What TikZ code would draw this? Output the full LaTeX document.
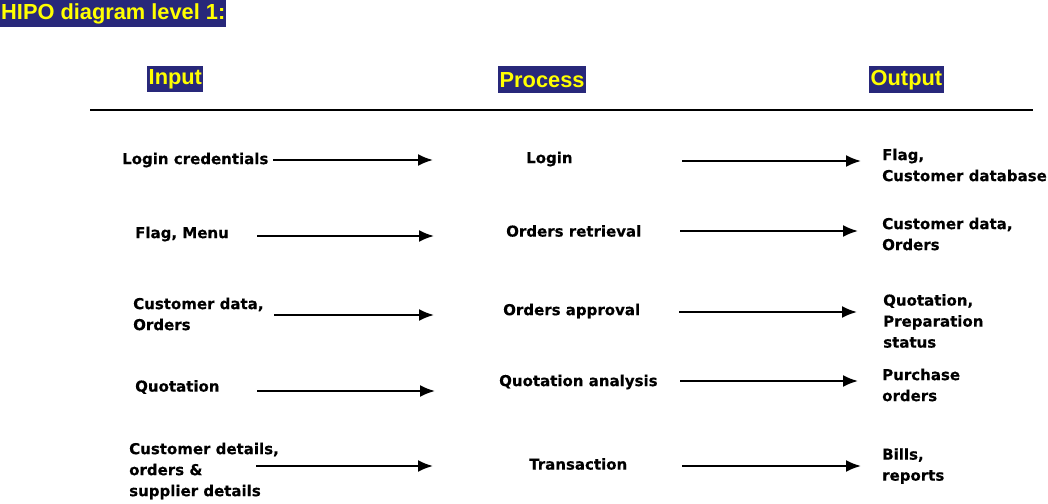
\documentclass[tikz,border=0pt]{standalone}
\usepackage{fontspec}
\setmainfont{DejaVu Sans}[BoldFeatures={FakeBold=0.4}]
\newfontfamily\headfont{Liberation Sans Bold}
\usetikzlibrary{arrows.meta,positioning}
\definecolor{hipoblue}{RGB}{40,40,122}
\definecolor{hipoyellow}{RGB}{255,255,0}
\tikzstyle{item} = [anchor=west, inner sep=0pt, align=left,
    font=\bfseries\fontsize{15}{21}\selectfont]
\tikzstyle{heading} = [anchor=north west, fill=hipoblue, text=hipoyellow,
    inner xsep=1.5pt, inner ysep=0pt, minimum height=26pt,
    font=\headfont\fontsize{21.8}{25}\selectfont]
\tikzstyle{flow} = [-{Latex[length=15pt,width=12pt]}, line width=2pt]

\begin{document}
\begin{tikzpicture}[x=1pt,y=-1pt]
\useasboundingbox (0,0) rectangle (1048,503);

% Headings and the rule under them
\node [heading, minimum height=27pt, inner xsep=1pt] (title) at (0,0) {HIPO diagram level 1:};
\node [heading] (input) at (147,66) {Input};
\node [heading, minimum height=27pt] (process) at (498,66) {Process};
\node [heading, minimum height=27pt] (output) at (869,66) {Output};
\coordinate (ruleL) at (90,110);
\coordinate (ruleR) at (1033,110);
\draw [line width=1.6pt] (ruleL) -- (ruleR);

% Inputs
\node [item] (in1) at (122,160) {Login credentials};
\node [item] (in2) at (135,234) {Flag, Menu};
\node [item] (in3) at (133,314) {Customer data,\\Orders};
\node [item] (in4) at (135,387) {Quotation};
\node [item] (in5) at (129,471) {Customer details,\\orders \&\\supplier details};

% Processes
\node [item] (pr1) at (526,159) {Login};
\node [item] (pr2) at (506,231) {Orders retrieval};
\node [item] (pr3) at (503,311) {Orders approval};
\node [item] (pr4) at (499,382) {Quotation analysis};
\node [item] (pr5) at (529,464) {Transaction};

% Outputs
\node [item] (out1) at (882,165) {Flag,\\Customer database};
\node [item] (out2) at (882,234) {Customer data,\\Orders};
\node [item] (out3) at (883,321) {Quotation,\\Preparation\\status};
\node [item] (out4) at (882,385) {Purchase\\orders};
\node [item] (out5) at (882,466) {Bills,\\reports};

% Arrow ends between the columns
\coordinate (i1a) at (273,160);  \coordinate (i1b) at (433,160);
\coordinate (i2a) at (257,236);  \coordinate (i2b) at (434,236);
\coordinate (i3a) at (274,315);  \coordinate (i3b) at (434,315);
\coordinate (i4a) at (257,391);  \coordinate (i4b) at (435,391);
\coordinate (i5a) at (256,466);  \coordinate (i5b) at (433,466);
\coordinate (o1a) at (682,161);  \coordinate (o1b) at (861,161);
\coordinate (o2a) at (680,231);  \coordinate (o2b) at (858,231);
\coordinate (o3a) at (679,312);  \coordinate (o3b) at (857,312);
\coordinate (o4a) at (680,381);  \coordinate (o4b) at (858,381);
\coordinate (o5a) at (682,466);  \coordinate (o5b) at (861,466);

\draw [flow] (i1a) -- (i1b);
\draw [flow] (i2a) -- (i2b);
\draw [flow] (i3a) -- (i3b);
\draw [flow] (i4a) -- (i4b);
\draw [flow] (i5a) -- (i5b);
\draw [flow] (o1a) -- (o1b);
\draw [flow] (o2a) -- (o2b);
\draw [flow] (o3a) -- (o3b);
\draw [flow] (o4a) -- (o4b);
\draw [flow] (o5a) -- (o5b);

\end{tikzpicture}
\end{document}
